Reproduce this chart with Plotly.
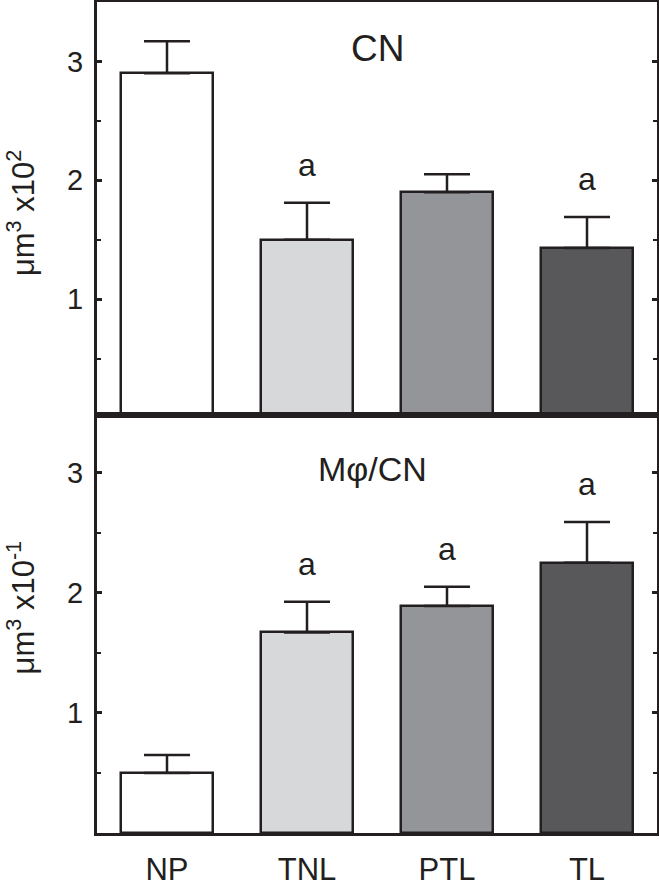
import plotly.graph_objects as go

groups = ["NP", "TNL", "PTL", "TL"]
cn_mean = [2.90, 1.50, 1.90, 1.43]
cn_err = [0.27, 0.31, 0.15, 0.26]
cn_sig = ["", "a", "", "a"]
mcn_mean = [0.50, 1.67, 1.89, 2.25]
mcn_err = [0.15, 0.255, 0.16, 0.34]
mcn_sig = ["", "a", "a", "a"]
y_ticks = [1, 2, 3]
fills = ["#ffffff", "#d7d8da", "#939598", "#58585a"]

INK = "#231f20"
FONT = "Liberation Sans, Arial, sans-serif"
xpos = list(range(len(groups)))

fig = go.Figure()

def add_bars(means, errs, xa, ya):
    fig.add_trace(go.Bar(
        x=xpos, y=means, width=0.66,
        marker=dict(color=fills, line=dict(color=INK, width=2.5)),
        error_y=dict(type="data", array=errs, arrayminus=[0]*len(errs),
                     symmetric=False, color=INK, thickness=2.5, width=23),
        xaxis=xa, yaxis=ya, showlegend=False, hoverinfo="skip"))

add_bars(cn_mean, cn_err, "x", "y")
add_bars(mcn_mean, mcn_err, "x2", "y2")

yax_common = dict(
    automargin=False,
    showline=True, linecolor=INK, linewidth=3, mirror="ticks",
    ticks="inside", ticklen=5, tickwidth=2.5, tickcolor=INK,
    tickvals=y_ticks, tickfont=dict(family=FONT, size=29, color=INK),
    ticklabelstandoff=5,
    minor=dict(dtick=0.5, ticks="inside", ticklen=4, tickwidth=2, tickcolor=INK),
    showgrid=False, zeroline=False)
xax_common = dict(
    automargin=False,
    showline=True, linecolor=INK, linewidth=3, mirror=True,
    ticks="", range=[-0.5, 3.5], showgrid=False, zeroline=False)

fig.update_layout(
    width=659, height=887,
    margin=dict(l=97, r=2, t=2, b=54),
    paper_bgcolor="white", plot_bgcolor="white",
    bargap=0,
    xaxis=dict(**xax_common, anchor="y", showticklabels=False),
    yaxis=dict(**yax_common, domain=[0.503, 1], range=[0.025, 3.5], anchor="x"),
    xaxis2=dict(**xax_common, anchor="y2", tickvals=xpos, ticktext=groups,
                tickfont=dict(family=FONT, size=31, color=INK), ticklabelstandoff=7),
    yaxis2=dict(**yax_common, domain=[0, 0.503], range=[0, 3.48], anchor="x2"),
)

anns = []
for means, errs, sig, xr, yr in [(cn_mean, cn_err, cn_sig, "x", "y"),
                                 (mcn_mean, mcn_err, mcn_sig, "x2", "y2")]:
    for i, s in enumerate(sig):
        if s:
            anns.append(dict(x=xpos[i], y=means[i] + errs[i], xref=xr, yref=yr,
                             text=s, showarrow=False, xanchor="center", yanchor="middle",
                             yshift=38, font=dict(family=FONT, size=32, color=INK)))

anns += [
    dict(x=0.5, y=0.9435, xref="paper", yref="paper", text="CN", showarrow=False,
         xanchor="center", yanchor="middle", font=dict(family=FONT, size=37, color=INK)),
    dict(x=0.492, y=0.438, xref="paper", yref="paper", text="Mφ/CN", showarrow=False,
         xanchor="center", yanchor="middle", font=dict(family=FONT, size=34, color=INK)),
    dict(x=-0.1357, y=0.746, xref="paper", yref="paper", text="μm<sup>3</sup> x10<sup>2</sup>",
         showarrow=False, textangle=-90, xanchor="center", yanchor="middle",
         font=dict(family=FONT, size=31, color=INK)),
    dict(x=-0.1357, y=0.2714, xref="paper", yref="paper", text="μm<sup>3</sup> x10<sup>-1</sup>",
         showarrow=False, textangle=-90, xanchor="center", yanchor="middle",
         font=dict(family=FONT, size=31, color=INK)),
]
fig.update_layout(annotations=anns)

fig.write_html("out.html", config={"displayModeBar": False},
               post_script="document.body.style.margin='0';document.body.style.overflow='hidden';")
